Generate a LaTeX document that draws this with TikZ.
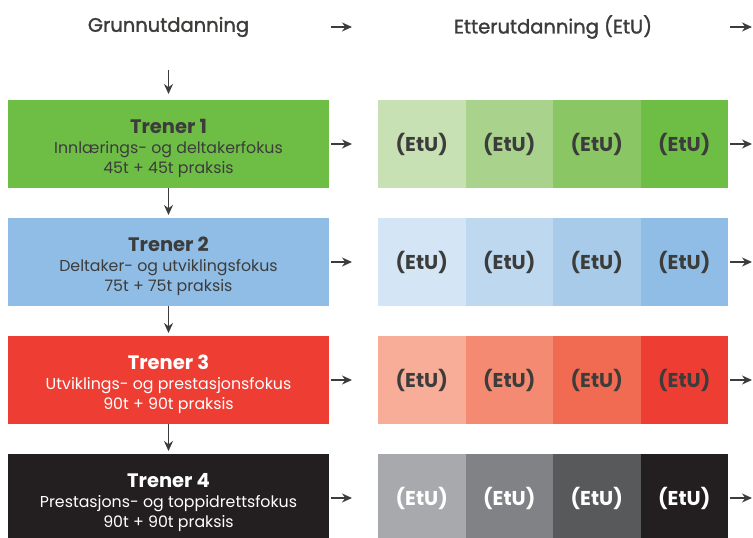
\documentclass[tikz,border=0pt]{standalone}
\usepackage{fontspec}
\setmainfont{Poppins}
\newfontfamily\medfont{Poppins}[BoldFont=Poppins, BoldFeatures={FakeBold=1.5}]
\usetikzlibrary{positioning, arrows.meta}

\definecolor{txt}{HTML}{3C3C3B}
\definecolor{gA}{HTML}{C8E1B4}
\definecolor{gB}{HTML}{A9D38D}
\definecolor{gC}{HTML}{8BC665}
\definecolor{gD}{HTML}{6EBE46}
\definecolor{bA}{HTML}{D4E5F5}
\definecolor{bB}{HTML}{BED8F0}
\definecolor{bC}{HTML}{A8CBEA}
\definecolor{bD}{HTML}{90BDE6}
\definecolor{rA}{HTML}{F7AD97}
\definecolor{rB}{HTML}{F48A71}
\definecolor{rC}{HTML}{F06B52}
\definecolor{rD}{HTML}{EE3D33}
\definecolor{kA}{HTML}{A7A9AC}
\definecolor{kB}{HTML}{808285}
\definecolor{kC}{HTML}{58595B}
\definecolor{kD}{HTML}{231F20}

\tikzstyle{head} = [text=txt, font=\fontsize{19.5}{20}\medfont\bfseries]
\tikzstyle{trener} = [rectangle, minimum width=321pt, minimum height=88pt, inner sep=0pt, outer sep=0pt, align=center, text=txt, font=\fontsize{15.8}{20}\selectfont]
\tikzstyle{etu} = [rectangle, minimum width=87.5pt, minimum height=88pt, inner sep=0pt, outer sep=0pt, text=txt, font=\fontsize{20}{20}\selectfont\bfseries]
\tikzstyle{arrow} = [line width=1.4pt, draw=txt, -{Stealth[length=10pt,width=9pt]}]

\newcommand{\tittel}[1]{{\fontsize{19.5}{22}\selectfont\bfseries\rule{0pt}{24pt}#1}}

\begin{document}
\begin{tikzpicture}[x=1pt, y=1pt, node distance=30pt]
\useasboundingbox (0,0) rectangle (753,538);
\clip (0,0) rectangle (753,538);

% Headings
\node (G) [head] at (168.5,511) {Grunnutdanning};
\node (E) [head] at (553,511) {Etterutdanning (EtU)};

% Grunnutdanning (left column)
\node (T1) [trener, fill=gD] at (168.5,394) {\tittel{Trener 1}\\Innlærings- og deltakerfokus\\45t + 45t praksis};
\node (T2) [trener, fill=bD, below=of T1] {\tittel{Trener 2}\\Deltaker- og utviklingsfokus\\75t + 75t praksis};
\node (T3) [trener, fill=rD, below=of T2, text=white] {\tittel{Trener 3}\\Utviklings- og prestasjonsfokus\\90t + 90t praksis};
\node (T4) [trener, fill=kD, below=of T3, text=white] {\tittel{Trener 4}\\Prestasjons- og toppidrettsfokus\\90t + 90t praksis};

% Etterutdanning (right strips)
\node (E1a) [etu, fill=gA, right=49pt of T1] {(EtU)};
\node (E1b) [etu, fill=gB, right=0pt of E1a] {(EtU)};
\node (E1c) [etu, fill=gC, right=0pt of E1b] {(EtU)};
\node (E1d) [etu, fill=gD, right=0pt of E1c] {(EtU)};

\node (E2a) [etu, fill=bA, right=49pt of T2] {(EtU)};
\node (E2b) [etu, fill=bB, right=0pt of E2a] {(EtU)};
\node (E2c) [etu, fill=bC, right=0pt of E2b] {(EtU)};
\node (E2d) [etu, fill=bD, right=0pt of E2c] {(EtU)};

\node (E3a) [etu, fill=rA, right=49pt of T3] {(EtU)};
\node (E3b) [etu, fill=rB, right=0pt of E3a] {(EtU)};
\node (E3c) [etu, fill=rC, right=0pt of E3b] {(EtU)};
\node (E3d) [etu, fill=rD, right=0pt of E3c] {(EtU)};

\node (E4a) [etu, fill=kA, right=49pt of T4, text=white] {(EtU)};
\node (E4b) [etu, fill=kB, right=0pt of E4a, text=white] {(EtU)};
\node (E4c) [etu, fill=kC, right=0pt of E4b, text=white] {(EtU)};
\node (E4d) [etu, fill=kD, right=0pt of E4c, text=white] {(EtU)};

% Free ends
\coordinate (Ga) at ([xshift=2pt]T1.east |- G.center);
\coordinate (Gb) at ([xshift=-26pt]E1a.west |- G.center);
\coordinate (Ea) at ([xshift=2pt]E1d.east |- E.center);
\coordinate (Eb) at ([xshift=24pt]E1d.east |- E.center);
\coordinate (S) at ([yshift=30pt]T1.north);

% Connecting arrows
\draw [arrow] (Ga) -- (Gb);
\draw [arrow] (Ea) -- (Eb);
\draw [arrow] (S) -- ([yshift=6pt]T1.north);
\draw [arrow] (T1.south) -- ([yshift=3pt]T2.north);
\draw [arrow] (T2.south) -- ([yshift=3pt]T3.north);
\draw [arrow] (T3.south) -- ([yshift=3pt]T4.north);

\draw [arrow] ([xshift=2pt]T1.east) -- ([xshift=-26pt]E1a.west);
\draw [arrow] ([xshift=2pt]T2.east) -- ([xshift=-26pt]E2a.west);
\draw [arrow] ([xshift=2pt]T3.east) -- ([xshift=-26pt]E3a.west);
\draw [arrow] ([xshift=2pt]T4.east) -- ([xshift=-26pt]E4a.west);

\draw [arrow] ([xshift=2pt]E1d.east) -- ([xshift=24pt]E1d.east);
\draw [arrow] ([xshift=2pt]E2d.east) -- ([xshift=24pt]E2d.east);
\draw [arrow] ([xshift=2pt]E3d.east) -- ([xshift=24pt]E3d.east);
\draw [arrow] ([xshift=2pt]E4d.east) -- ([xshift=24pt]E4d.east);

\end{tikzpicture}
\end{document}
